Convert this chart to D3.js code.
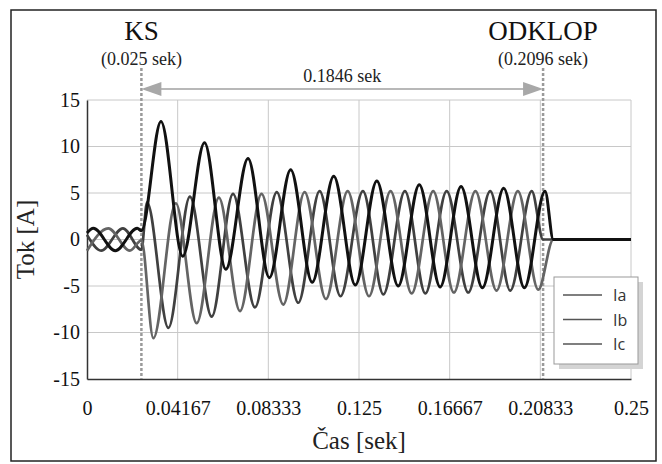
<!DOCTYPE html>
<html>
<head>
<meta charset="utf-8">
<script src="https://cdn.jsdelivr.net/npm/d3@7"></script>
<style>
  body { margin: 0; background: #fff; }
</style>
</head>
<body>
<div id="chart"></div>
<script>
// [time (s), current (A)]: peaks, troughs and switching instants
const ia = [
    [0, 0.7], [0.0029, 1.2], [0.013, -1.2], [0.0231, 1.2], [0.025, 0.95],
    [0.034, 12.7], [0.044, -1.8], [0.054, 10.4], [0.0638, -3.2], [0.074, 8.7],
    [0.0838, -4.1], [0.0936, 7.5], [0.1035, -4.6], [0.1134, 6.8], [0.1233, -4.9],
    [0.1332, 6.3], [0.143, -5.0], [0.1527, 5.9], [0.1623, -5.1], [0.1719, 5.7],
    [0.1817, -5.2], [0.1915, 5.5], [0.201, -5.2], [0.2105, 5.2], [0.2143, 0], [0.25, 0]
];
const ib = [
    [0, -1.2], [0.0098, 1.2], [0.0197, -1.2], [0.025, -0.1],
    [0.0305, -10.6], [0.0408, 3.9], [0.0504, -9.0], [0.0606, 4.5], [0.0703, -7.7],
    [0.0802, 4.9], [0.0902, -7.0], [0.1, 5.1], [0.1098, -6.4], [0.1198, 5.2],
    [0.1296, -6.1], [0.1395, 5.2], [0.1492, -5.8], [0.1591, 5.2], [0.1686, -5.7],
    [0.1785, 5.2], [0.1882, -5.5], [0.198, 5.2], [0.2074, -5.4], [0.2143, 0], [0.25, 0]
];
const ic = [
    [0, 0.5], [0.0065, -1.2], [0.0165, 1.2], [0.025, -1.1],
    [0.0276, 4.0], [0.0374, -9.5], [0.0473, 4.6], [0.0573, -8.3], [0.0671, 4.9],
    [0.0772, -7.3], [0.0872, 5.1], [0.0971, -6.8], [0.1069, 5.2], [0.1165, -6.1],
    [0.1268, 5.2], [0.1362, -5.9], [0.1461, 5.2], [0.1555, -5.8], [0.1653, 5.2],
    [0.1752, -5.7], [0.1853, 5.2], [0.1945, -5.5], [0.2044, 5.2], [0.2096, 0], [0.25, 0]
];

const xTicks = [0, 0.04167, 0.08333, 0.125, 0.16667, 0.20833, 0.25];
const xTickLabels = ["0", "0.04167", "0.08333", "0.125", "0.16667", "0.20833", "0.25"];
const yTicks = [-15, -10, -5, 0, 5, 10, 15];
const yTickLabels = ["-15", "-10", "-5", "0", "5", "10", "15"];

const tFault = 0.025;
const tOpen = 0.2096;
const faultLabel = ["KS", "(0.025 sek)"];
const openLabel = ["ODKLOP", "(0.2096 sek)"];
const durationLabel = "0.1846 sek";

const seriesNames = ["Ia", "Ib", "Ic"];
const seriesData = [ia, ib, ic];

const serif = "'Liberation Serif', 'Times New Roman', Times, serif";
const sans = "'Open Sans', 'Noto Sans', sans-serif";


const margin = {top: 100, right: 31, bottom: 85, left: 87};
const width = 662 - margin.left - margin.right;
const height = 464 - margin.top - margin.bottom;

const svg = d3.select("#chart")
    .append("svg")
    .attr("width", 662)
    .attr("height", 464);

svg.append("rect")
    .attr("x", 11)
    .attr("y", 10)
    .attr("width", 645)
    .attr("height", 451)
    .attr("fill", "none")
    .attr("stroke", "#222")
    .attr("stroke-width", 1.5);

const g = svg.append("g")
    .attr("transform", `translate(${margin.left},${margin.top})`);

const x = d3.scaleLinear()
    .domain([0, 0.25])
    .range([0, width]);

const y = d3.scaleLinear()
    .domain([-15, 15])
    .range([height, 0]);

const color = d3.scaleOrdinal()
    .domain(seriesNames)
    .range(["#111", "#646464", "#404040"]);


// grid
g.selectAll(".vgrid")
    .data(xTicks.slice(1))
    .enter()
    .append("line")
    .attr("x1", d => x(d))
    .attr("x2", d => x(d))
    .attr("y1", 0)
    .attr("y2", height)
    .attr("stroke", "#c8c8c8")
    .attr("stroke-width", 1);

g.selectAll(".hgrid")
    .data(yTicks.slice(1))
    .enter()
    .append("line")
    .attr("x1", 0)
    .attr("x2", width)
    .attr("y1", d => y(d))
    .attr("y2", d => y(d))
    .attr("stroke", "#c8c8c8")
    .attr("stroke-width", 1);


// axes
const xAxis = g.append("g")
    .attr("transform", `translate(0,${height})`)
    .call(d3.axisBottom(x)
        .tickValues(xTicks)
        .tickFormat((d, i) => xTickLabels[i])
        .tickSize(0)
        .tickPadding(22));

const yAxis = g.append("g")
    .call(d3.axisLeft(y)
        .tickValues(yTicks)
        .tickFormat((d, i) => yTickLabels[i])
        .tickSize(0)
        .tickPadding(7));

[xAxis, yAxis].forEach(a => {
    a.attr("font-family", null);
    a.select(".domain").attr("stroke", "#333").attr("stroke-width", 1.5);
    a.selectAll("text")
        .style("font-family", serif)
        .style("font-size", "20px")
        .attr("fill", "#111");
});


// switching markers
[tFault, tOpen].forEach(t => {
    g.append("line")
        .attr("x1", x(t))
        .attr("x2", x(t))
        .attr("y1", -32)
        .attr("y2", height)
        .attr("stroke", "#9a9a9a")
        .attr("stroke-width", 2.5)
        .attr("stroke-dasharray", "3,2");
});


// currents
const line = d3.line()
    .x(d => x(d[0]))
    .y(d => y(d[1]))
    .curve(d3.curveMonotoneX);

[2, 1, 0].forEach(i => {
    g.append("path")
        .datum(seriesData[i])
        .attr("fill", "none")
        .attr("stroke", color(seriesNames[i]))
        .attr("stroke-width", i === 0 ? 3 : 2.7)
        .attr("d", line);
});


// annotations
[[tFault, faultLabel], [tOpen, openLabel]].forEach(([t, lab]) => {
    g.append("text")
        .attr("x", x(t))
        .attr("y", -60)
        .attr("text-anchor", "middle")
        .style("font-family", serif)
        .style("font-size", "27px")
        .attr("fill", "#111")
        .text(lab[0]);
    g.append("text")
        .attr("x", x(t))
        .attr("y", -35)
        .attr("text-anchor", "middle")
        .style("font-family", serif)
        .style("font-size", "18px")
        .attr("fill", "#222")
        .text(lab[1]);
});

const arrowY = -11;
g.append("line")
    .attr("x1", x(tFault) + 18)
    .attr("x2", x(tOpen) - 18)
    .attr("y1", arrowY)
    .attr("y2", arrowY)
    .attr("stroke", "#a0a0a0")
    .attr("stroke-width", 1.5);

g.append("path")
    .attr("d", `M${x(tFault)},${arrowY} l20,-7 l0,14 Z`)
    .attr("fill", "#a8a8a8");

g.append("path")
    .attr("d", `M${x(tOpen)},${arrowY} l-20,-7 l0,14 Z`)
    .attr("fill", "#a8a8a8");

g.append("text")
    .attr("x", (x(tFault) + x(tOpen)) / 2)
    .attr("y", -18)
    .attr("text-anchor", "middle")
    .style("font-family", serif)
    .style("font-size", "18px")
    .attr("fill", "#222")
    .text(durationLabel);


// axis titles
g.append("text")
    .attr("x", width / 2)
    .attr("y", height + 70)
    .attr("text-anchor", "middle")
    .style("font-family", serif)
    .style("font-size", "25px")
    .attr("fill", "#222")
    .text("Čas [sek]");

g.append("text")
    .attr("x", -height / 2)
    .attr("y", -53)
    .attr("transform", "rotate(-90)")
    .attr("text-anchor", "middle")
    .style("font-family", serif)
    .style("font-size", "25px")
    .attr("fill", "#222")
    .text("Tok [A]");


// legend
const lg = svg.append("g")
    .attr("transform", "translate(554,277)");

lg.append("rect")
    .attr("x", 5)
    .attr("y", 5)
    .attr("width", 84)
    .attr("height", 87)
    .attr("fill", "#d4d4d4");

lg.append("rect")
    .attr("width", 84)
    .attr("height", 87)
    .attr("fill", "#fff")
    .attr("stroke", "#999")
    .attr("stroke-width", 1);

const legend = lg.selectAll(".legend")
    .data(seriesNames)
    .enter()
    .append("g")
    .attr("transform", (d, i) => `translate(0,${18 + i * 24.5})`);

legend.append("line")
    .attr("x1", 9)
    .attr("x2", 48)
    .attr("stroke", "#555")
    .attr("stroke-width", 1.5);

legend.append("text")
    .attr("x", 59)
    .attr("y", 6)
    .style("font-family", sans)
    .style("font-size", "16px")
    .attr("fill", "#333")
    .text(d => d);
</script>
</body>
</html>
